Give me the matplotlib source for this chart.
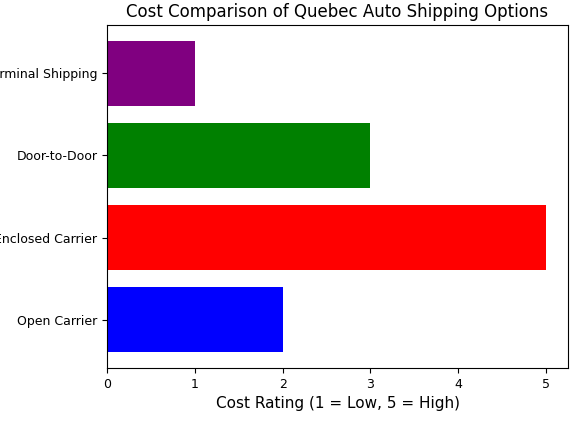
import matplotlib.pyplot as plt

categories = ['Open Carrier', 'Enclosed Carrier', 'Door-to-Door', 'Terminal Shipping']
values = [2, 5, 3, 1]
colors = ['blue', 'red', 'green', 'purple']

fig = plt.figure(figsize=(5.76, 4.22), dpi=100)
ax = fig.add_axes([107/576, 1-368/422, (568-107)/576, (368-25)/422])
ax.barh(categories, values, color=colors)
ax.set_xlabel('Cost Rating (1 = Low, 5 = High)', fontsize=11)
ax.set_title('Cost Comparison of Quebec Auto Shipping Options', fontsize=12)
ax.tick_params(labelsize=9)
fig.savefig('out.png', dpi=100)
